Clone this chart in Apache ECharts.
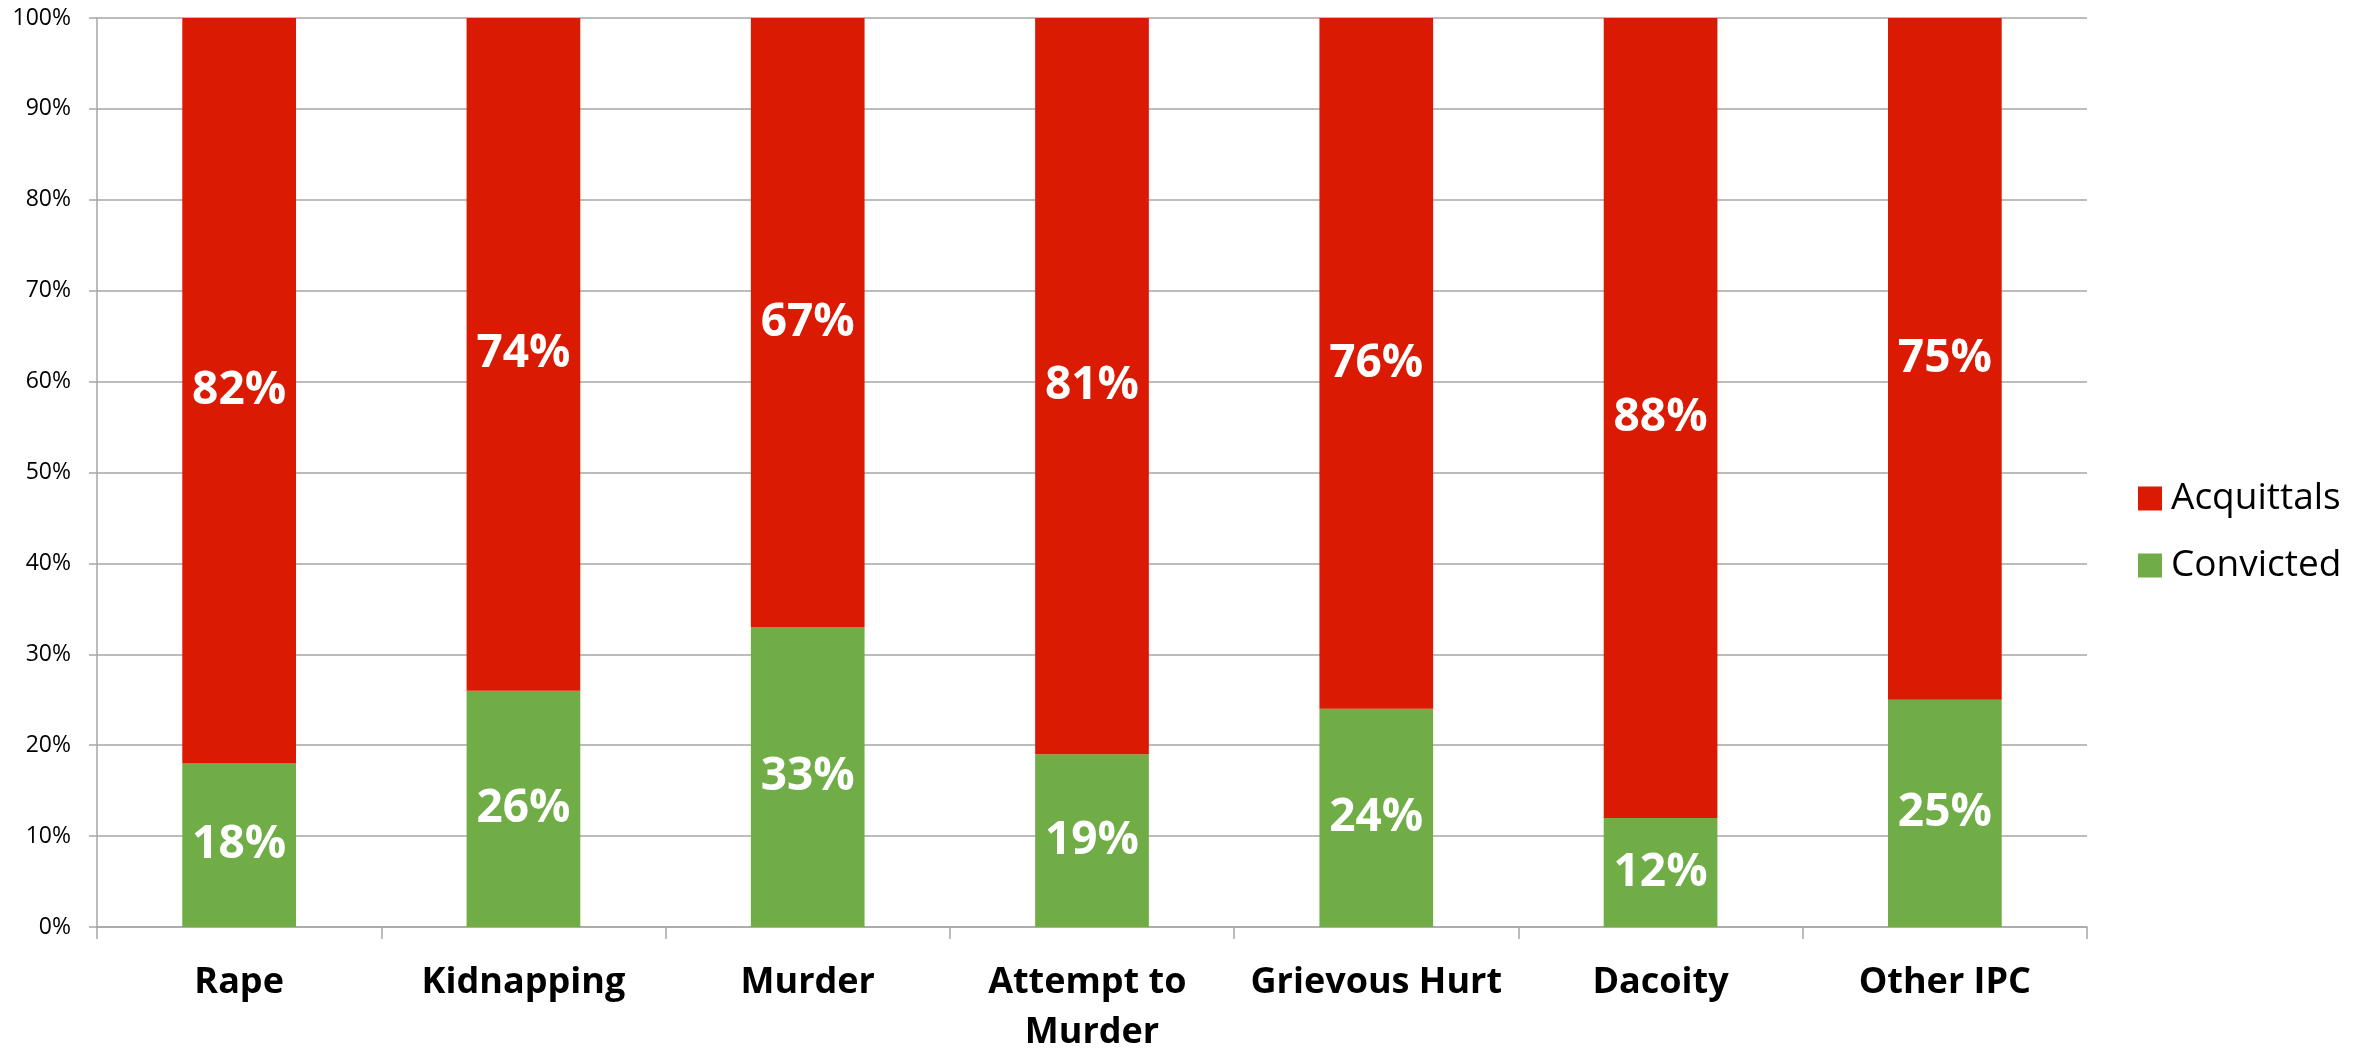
<!DOCTYPE html>
<html>
<head>
<meta charset="utf-8">
<script src="https://cdn.jsdelivr.net/npm/echarts@6/dist/echarts.min.js"></script>
<style>
  html, body { margin: 0; padding: 0; background: #ffffff; }
  #chart { width: 2369px; height: 1050px; }
</style>
</head>
<body>
<div id="chart"></div>
<script>
// Share of trial outcomes by crime head (percent)
const categories = ['Rape', 'Kidnapping', 'Murder', 'Attempt to Murder', 'Grievous Hurt', 'Dacoity', 'Other IPC'];
const convicted = [18, 26, 33, 19, 24, 12, 25];
const acquittals = [82, 74, 67, 81, 76, 88, 75];
const yTicks = [0, 10, 20, 30, 40, 50, 60, 70, 80, 90, 100];

const FONT = '"Open Sans", "Liberation Sans", sans-serif';
const GRID_GRAY = '#a6a6a6';

const valueLabel = {
  show: true,
  position: 'inside',
  formatter: p => p.value + '%',
  color: '#ffffff',
  fontFamily: FONT,
  fontWeight: 'bold',
  fontSize: 46
};

const chart = echarts.init(document.getElementById('chart'), null, { renderer: 'canvas' });
chart.setOption({
  animation: false,
  backgroundColor: '#ffffff',
  grid: { left: 97, right: 282, top: 18, bottom: 123, containLabel: false, outerBoundsMode: 'none' },
  legend: {
    orient: 'vertical',
    left: 2133,
    top: 475,
    icon: 'rect',
    itemWidth: 24,
    itemHeight: 24,
    itemGap: 30,
    data: ['Acquittals', 'Convicted'],
    textStyle: { fontFamily: FONT, fontSize: 37, color: '#000000', padding: [0, 0, 0, 4] }
  },
  xAxis: {
    type: 'category',
    data: categories,
    axisLine: { show: true, lineStyle: { color: GRID_GRAY, width: 1.5 } },
    axisTick: { show: true, length: 12, alignWithLabel: false, lineStyle: { color: GRID_GRAY, width: 1.5 } },
    axisLabel: {
      interval: 0,
      margin: 31,
      color: '#000000',
      fontFamily: FONT,
      fontWeight: 'bold',
      fontSize: 36,
      lineHeight: 50,
      width: 270,
      overflow: 'break'
    }
  },
  yAxis: {
    type: 'value',
    min: 0,
    max: 100,
    interval: 10,
    axisLine: { show: true, lineStyle: { color: GRID_GRAY, width: 1.5 } },
    axisTick: { show: true, length: 8, lineStyle: { color: GRID_GRAY, width: 1.5 } },
    splitLine: { show: true, lineStyle: { color: GRID_GRAY, width: 1.5 } },
    axisLabel: {
      margin: 26,
      color: '#000000',
      fontFamily: FONT,
      fontSize: 23,
      formatter: v => (yTicks.includes(v) ? v + '%' : '')
    }
  },
  series: [
    {
      name: 'Convicted',
      type: 'bar',
      stack: 'total',
      barWidth: '40%',
      data: convicted,
      itemStyle: { color: '#70ad47' },
      label: valueLabel
    },
    {
      name: 'Acquittals',
      type: 'bar',
      stack: 'total',
      barWidth: '40%',
      data: acquittals,
      itemStyle: { color: '#da1a03' },
      label: valueLabel
    }
  ]
});
</script>
</body>
</html>
